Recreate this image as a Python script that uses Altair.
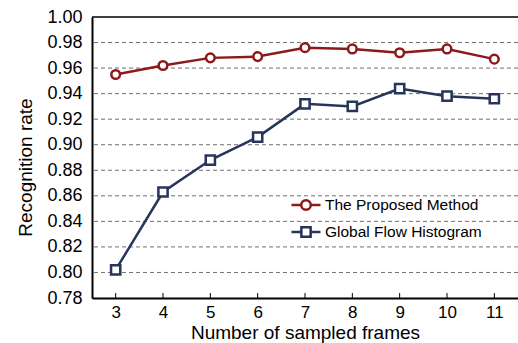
import altair as alt
import pandas as pd

# Recognition rate versus the number of sampled frames
frames = [3, 4, 5, 6, 7, 8, 9, 10, 11]
proposed = [0.955, 0.962, 0.968, 0.969, 0.976, 0.975, 0.972, 0.975, 0.967]
global_flow = [0.802, 0.863, 0.888, 0.906, 0.932, 0.930, 0.944, 0.938, 0.936]

series_names = ["The Proposed Method", "Global Flow Histogram"]
series_colors = ["#8c1a1a", "#27355a"]
y_ticks = [0.78, 0.80, 0.82, 0.84, 0.86, 0.88, 0.90, 0.92, 0.94, 0.96, 0.98, 1.00]

FONT = "Liberation Sans"

df = pd.concat(
    [
        pd.DataFrame({"frames": frames, "rate": proposed, "series": series_names[0]}),
        pd.DataFrame({"frames": frames, "rate": global_flow, "series": series_names[1]}),
    ],
    ignore_index=True,
)
ticks_df = pd.DataFrame({"frames": frames})
grid_df = pd.DataFrame({"rate": y_ticks[1:-1]})
border_df = pd.DataFrame({"rate": y_ticks[-1:]})

x_axis = alt.Axis(
    title="Number of sampled frames",
    values=frames,
    format="d",
    ticks=False,
    grid=False,
    labelOverlap=False,
    domainColor="black",
    domainWidth=2,
    labelFont=FONT,
    labelFontSize=17,
    labelColor="black",
    labelPadding=6,
    titleFont=FONT,
    titleFontSize=19,
    titleFontWeight="normal",
    titleColor="black",
    titlePadding=3,
)
y_axis = alt.Axis(
    title="Recognition rate",
    values=y_ticks,
    format=".2f",
    ticks=False,
    grid=False,
    labelOverlap=False,
    labelFlush=False,
    domainColor="black",
    domainWidth=2,
    labelFont=FONT,
    labelFontSize=18,
    labelColor="black",
    labelPadding=10,
    titleFont=FONT,
    titleFontSize=19,
    titleFontWeight="normal",
    titleColor="black",
    titlePadding=11,
    titleY=150,
)
x_scale = alt.Scale(domain=[2.5, 11.5], nice=False, zero=False)
y_scale = alt.Scale(domain=[0.78, 1.0], nice=False, zero=False)


def x_enc():
    return alt.X("frames:Q", scale=x_scale, axis=x_axis)


def y_enc():
    return alt.Y("rate:Q", scale=y_scale, axis=y_axis)


stroke_scale = alt.Scale(domain=series_names, range=series_colors)

# legend glyphs: a short line through an open circle / open square
circle_path = (
    "M-0.33,0A0.33,0.33,0,1,0,0.33,0A0.33,0.33,0,1,0,-0.33,0Z"
    "M-1,0L-0.33,0M0.33,0L1,0"
)
square_path = "M-0.32,-0.32L0.32,-0.32L0.32,0.32L-0.32,0.32Z M-1,0L-0.32,0M0.32,0L1,0"

# dashed horizontal gridlines at the inner tick values
grid = (
    alt.Chart(grid_df)
    .mark_rule(color="#6f6f6f", strokeWidth=1, strokeDash=[4, 3])
    .encode(y=y_enc())
)

# solid upper border of the plot frame
top_border = (
    alt.Chart(border_df)
    .mark_rule(color="black", strokeWidth=1.5)
    .encode(y=y_enc())
)

base = alt.Chart(df)

lines = base.mark_line(strokeWidth=2.5).encode(
    x=x_enc(),
    y=y_enc(),
    stroke=alt.Stroke("series:N", scale=stroke_scale),
)

circles = (
    base.transform_filter(alt.datum.series == series_names[0])
    .mark_point(shape="circle", size=75, filled=True, fill="white", strokeWidth=2.5, opacity=1)
    .encode(x=x_enc(), y=y_enc(), stroke=alt.Stroke("series:N", scale=stroke_scale))
)
squares = (
    base.transform_filter(alt.datum.series == series_names[1])
    .mark_point(shape="square", size=85, filled=True, fill="white", strokeWidth=2.5, opacity=1)
    .encode(x=x_enc(), y=y_enc(), stroke=alt.Stroke("series:N", scale=stroke_scale))
)

legend = alt.Legend(
    title=None,
    orient="none",
    legendX=198,
    legendY=172,
    padding=0,
    symbolSize=841,
    symbolStrokeWidth=2.5,
    symbolFillColor="white",
    symbolOpacity=1,
    labelFont=FONT,
    labelFontSize=15.5,
    labelColor="black",
    labelOffset=3,
    rowPadding=1,
)
legend_layer = base.mark_point(opacity=0, filled=True).encode(
    x=x_enc(),
    y=y_enc(),
    stroke=alt.Stroke("series:N", scale=stroke_scale, legend=legend),
    shape=alt.Shape(
        "series:N",
        scale=alt.Scale(domain=series_names, range=[circle_path, square_path]),
        legend=legend,
    ),
)

# inward tick marks on the frame axis
x_ticks = (
    alt.Chart(ticks_df)
    .mark_rule(color="black", strokeWidth=1)
    .encode(x=x_enc(), y=alt.value(281), y2=alt.value(276))
)

chart = (
    alt.layer(grid, top_border, lines, circles, squares, legend_layer, x_ticks)
    .properties(
        width=426,
        height=281,
        padding={"left": 92, "top": 17, "right": 0, "bottom": 45},
        autosize=alt.AutoSizeParams(type="none"),
        background="white",
    )
    .configure_view(stroke=None)
)

chart.save("out.html", embed_options={"renderer": "svg", "actions": False})
